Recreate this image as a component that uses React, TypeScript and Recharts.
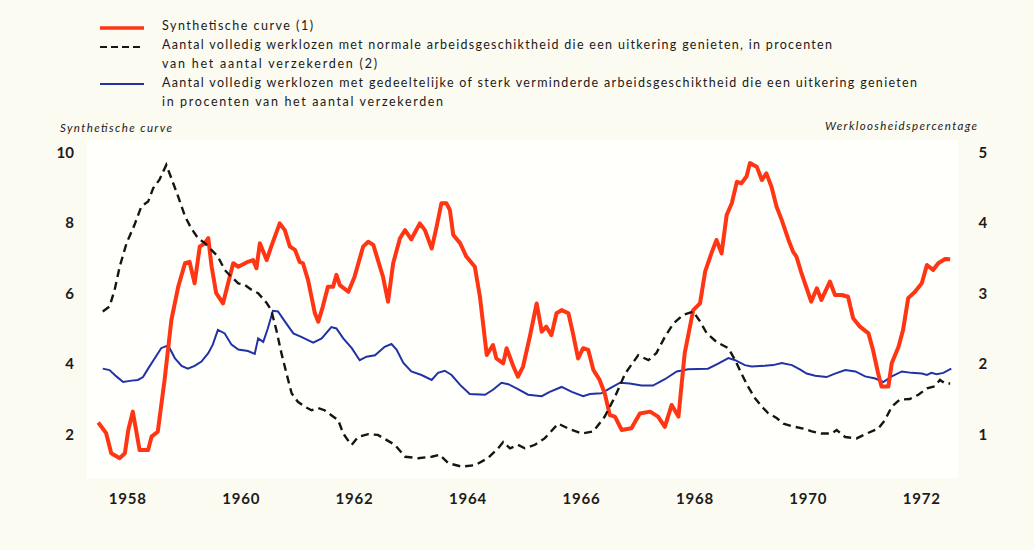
import { LineChart, Line, XAxis, YAxis } from "recharts";

// Synthetische curve (left axis), [year, value]
const synthetic = [
  [1957.48, 2.31], [1957.62, 2.01], [1957.71, 1.44], [1957.86, 1.3], [1957.95, 1.44],
  [1958.01, 2.1], [1958.09, 2.62], [1958.21, 1.53], [1958.36, 1.53], [1958.42, 1.91],
  [1958.53, 2.05], [1958.65, 3.52], [1958.77, 5.22], [1958.89, 6.16], [1959.01, 6.83],
  [1959.09, 6.87], [1959.18, 6.26], [1959.27, 7.3], [1959.36, 7.4], [1959.42, 7.54],
  [1959.48, 6.73], [1959.56, 5.98], [1959.68, 5.69], [1959.77, 6.26], [1959.86, 6.83],
  [1959.95, 6.73], [1960.12, 6.87], [1960.21, 6.92], [1960.27, 6.69], [1960.33, 7.4],
  [1960.45, 6.92], [1960.53, 7.3], [1960.68, 7.96], [1960.77, 7.77], [1960.86, 7.3],
  [1960.95, 7.21], [1961.03, 6.87], [1961.09, 6.83], [1961.18, 6.35], [1961.3, 5.41],
  [1961.36, 5.17], [1961.44, 5.6], [1961.53, 6.16], [1961.62, 6.16], [1961.68, 6.5],
  [1961.74, 6.21], [1961.89, 6.02], [1962.0, 6.45], [1962.15, 7.3], [1962.24, 7.44],
  [1962.33, 7.35], [1962.5, 6.45], [1962.59, 5.74], [1962.68, 6.83], [1962.8, 7.54],
  [1962.89, 7.77], [1963.0, 7.51], [1963.15, 7.96], [1963.24, 7.77], [1963.36, 7.25],
  [1963.44, 7.82], [1963.53, 8.53], [1963.62, 8.53], [1963.68, 8.34], [1963.74, 7.63],
  [1963.86, 7.4], [1963.97, 7.02], [1964.12, 6.73], [1964.21, 5.88], [1964.33, 4.23],
  [1964.44, 4.51], [1964.5, 4.13], [1964.62, 3.99], [1964.68, 4.42], [1964.8, 3.9],
  [1964.88, 3.61], [1964.97, 3.9], [1965.09, 4.75], [1965.21, 5.69], [1965.3, 4.89],
  [1965.38, 5.03], [1965.47, 4.79], [1965.56, 5.41], [1965.65, 5.5], [1965.77, 5.41],
  [1965.85, 4.84], [1965.94, 4.13], [1966.03, 4.42], [1966.12, 4.37], [1966.21, 3.8],
  [1966.32, 3.52], [1966.41, 3.14], [1966.5, 2.52], [1966.59, 2.48], [1966.71, 2.1],
  [1966.88, 2.15], [1967.03, 2.57], [1967.21, 2.62], [1967.35, 2.48], [1967.47, 2.19],
  [1967.59, 2.81], [1967.71, 2.48], [1967.82, 4.28], [1967.97, 5.5], [1968.09, 5.69],
  [1968.18, 6.59], [1968.29, 7.11], [1968.38, 7.49], [1968.47, 7.11], [1968.56, 8.2],
  [1968.65, 8.53], [1968.74, 9.14], [1968.82, 9.1], [1968.91, 9.29], [1968.97, 9.67],
  [1969.09, 9.57], [1969.18, 9.19], [1969.26, 9.38], [1969.35, 9.0], [1969.44, 8.43],
  [1969.53, 8.06], [1969.65, 7.49], [1969.73, 7.16], [1969.79, 7.02], [1969.88, 6.54],
  [1969.97, 6.12], [1970.05, 5.74], [1970.15, 6.12], [1970.23, 5.79], [1970.38, 6.31],
  [1970.47, 5.93], [1970.59, 5.93], [1970.7, 5.88], [1970.79, 5.27], [1970.91, 5.03],
  [1971.06, 4.84], [1971.14, 4.37], [1971.23, 3.71], [1971.29, 3.33], [1971.41, 3.33],
  [1971.47, 3.99], [1971.59, 4.46], [1971.67, 4.94], [1971.76, 5.84], [1971.88, 6.02],
  [1972.0, 6.26], [1972.09, 6.78], [1972.2, 6.64], [1972.29, 6.83], [1972.41, 6.95],
  [1972.5, 6.94],
].map(([t, v]) => ({ t, v }));

// normale arbeidsgeschiktheid, % (right axis)
const normal = [
  [1957.56, 2.73], [1957.68, 2.8], [1957.77, 3.04], [1957.86, 3.37], [1957.98, 3.7],
  [1958.12, 3.96], [1958.24, 4.22], [1958.36, 4.29], [1958.45, 4.48], [1958.56, 4.6],
  [1958.68, 4.81], [1958.77, 4.62], [1958.89, 4.36], [1959.01, 4.08], [1959.12, 3.91],
  [1959.24, 3.77], [1959.36, 3.7], [1959.48, 3.6], [1959.59, 3.51], [1959.71, 3.32],
  [1959.83, 3.22], [1959.95, 3.13], [1960.06, 3.11], [1960.18, 3.04], [1960.3, 2.99],
  [1960.45, 2.85], [1960.53, 2.75], [1960.62, 2.47], [1960.71, 2.14], [1960.8, 1.85],
  [1960.89, 1.57], [1961.0, 1.45], [1961.12, 1.38], [1961.24, 1.33], [1961.36, 1.36],
  [1961.47, 1.33], [1961.59, 1.26], [1961.71, 1.19], [1961.8, 1.0], [1961.92, 0.86],
  [1961.95, 0.84], [1962.06, 0.95], [1962.24, 0.99], [1962.41, 0.98], [1962.56, 0.91],
  [1962.71, 0.84], [1962.89, 0.67], [1963.12, 0.65], [1963.36, 0.67], [1963.5, 0.7],
  [1963.65, 0.58], [1963.89, 0.53], [1964.12, 0.55], [1964.35, 0.65], [1964.53, 0.79],
  [1964.62, 0.88], [1964.74, 0.79], [1964.88, 0.84], [1965.0, 0.79], [1965.18, 0.84],
  [1965.35, 0.93], [1965.59, 1.14], [1965.77, 1.07], [1966.01, 1.0], [1966.21, 1.03],
  [1966.41, 1.24], [1966.59, 1.52], [1966.77, 1.85], [1967.0, 2.11], [1967.18, 2.04],
  [1967.32, 2.14], [1967.47, 2.37], [1967.62, 2.56], [1967.79, 2.68], [1967.97, 2.73],
  [1968.09, 2.59], [1968.21, 2.42], [1968.38, 2.3], [1968.59, 2.21], [1968.71, 2.04],
  [1968.82, 1.85], [1968.94, 1.66], [1969.06, 1.5], [1969.18, 1.38], [1969.29, 1.29],
  [1969.44, 1.22], [1969.56, 1.14], [1969.73, 1.1], [1969.91, 1.07], [1970.06, 1.03],
  [1970.23, 1.0], [1970.41, 1.0], [1970.5, 1.05], [1970.65, 0.95], [1970.85, 0.93],
  [1971.03, 1.0], [1971.23, 1.07], [1971.35, 1.19], [1971.47, 1.38], [1971.61, 1.48],
  [1971.79, 1.49], [1971.94, 1.55], [1972.09, 1.64], [1972.23, 1.67], [1972.32, 1.76],
  [1972.41, 1.71], [1972.5, 1.71],
].map(([t, v]) => ({ t, v }));

// gedeeltelijke of sterk verminderde arbeidsgeschiktheid, % (right axis)
const reduced = [
  [1957.56, 1.92], [1957.68, 1.9], [1957.8, 1.81], [1957.92, 1.73], [1958.07, 1.75],
  [1958.18, 1.76], [1958.27, 1.8], [1958.36, 1.92], [1958.48, 2.07], [1958.59, 2.21],
  [1958.68, 2.24], [1958.74, 2.21], [1958.83, 2.07], [1958.95, 1.96], [1959.06, 1.92],
  [1959.18, 1.96], [1959.3, 2.02], [1959.42, 2.14], [1959.5, 2.26], [1959.59, 2.47],
  [1959.71, 2.42], [1959.83, 2.26], [1959.95, 2.19], [1960.12, 2.17], [1960.24, 2.13],
  [1960.3, 2.35], [1960.39, 2.3], [1960.47, 2.49], [1960.56, 2.74], [1960.65, 2.73],
  [1960.77, 2.59], [1960.92, 2.42], [1961.06, 2.37], [1961.27, 2.29], [1961.42, 2.35],
  [1961.59, 2.51], [1961.68, 2.49], [1961.8, 2.35], [1961.95, 2.21], [1962.09, 2.04],
  [1962.21, 2.09], [1962.36, 2.11], [1962.53, 2.23], [1962.65, 2.27], [1962.74, 2.19],
  [1962.86, 2.0], [1963.0, 1.88], [1963.18, 1.83], [1963.36, 1.76], [1963.47, 1.86],
  [1963.59, 1.89], [1963.71, 1.83], [1963.86, 1.69], [1964.03, 1.56], [1964.3, 1.55],
  [1964.44, 1.62], [1964.59, 1.72], [1964.71, 1.7], [1964.88, 1.63], [1965.06, 1.55],
  [1965.3, 1.53], [1965.44, 1.59], [1965.65, 1.66], [1965.83, 1.59], [1966.03, 1.53],
  [1966.15, 1.56], [1966.35, 1.57], [1966.5, 1.64], [1966.68, 1.72], [1966.85, 1.71],
  [1967.06, 1.68], [1967.26, 1.68], [1967.47, 1.77], [1967.68, 1.88], [1967.88, 1.91],
  [1968.23, 1.92], [1968.41, 1.99], [1968.59, 2.07], [1968.71, 2.04], [1968.88, 1.97],
  [1969.0, 1.95], [1969.23, 1.96], [1969.38, 1.97], [1969.53, 2.0], [1969.71, 1.97],
  [1969.85, 1.91], [1969.97, 1.85], [1970.12, 1.82], [1970.32, 1.8], [1970.47, 1.85],
  [1970.65, 1.9], [1970.83, 1.88], [1971.0, 1.81], [1971.18, 1.78], [1971.32, 1.73],
  [1971.47, 1.81], [1971.65, 1.88], [1971.82, 1.86], [1972.0, 1.85], [1972.09, 1.83],
  [1972.17, 1.86], [1972.26, 1.84], [1972.38, 1.86], [1972.52, 1.92],
].map(([t, v]) => ({ t, v }));

const yearTicks = [1958, 1960, 1962, 1964, 1966, 1968, 1970, 1972];
const leftTicks = [2, 4, 6, 8, 10];
const rightTicks = [1, 2, 3, 4, 5];

const legendRows = [
  { text: "Synthetische curve (1)", width: 151, mark: "red" },
  { text: "Aantal volledig werklozen met normale arbeidsgeschiktheid die een uitkering genieten, in procenten", width: 670, mark: "dash" },
  { text: "van het aantal verzekerden (2)", width: 215, mark: "" },
  { text: "Aantal volledig werklozen met gedeeltelijke of sterk verminderde arbeidsgeschiktheid die een uitkering genieten", width: 755, mark: "blue" },
  { text: "in procenten van het aantal verzekerden", width: 281, mark: "" },
];

const RED = "#ff3514";
const BLUE = "#2132a6";
const BLACK = "#151515";
const FONT = "Lato, 'Open Sans', sans-serif";

function LegendBlock() {
  return (
    <svg width={1034} height={140} style={{ position: "absolute", left: 0, top: 0 }}>
      {legendRows.map((r, i) => {
        const y = 25 + i * 19;
        return (
          <g key={i}>
            {r.mark === "red" && <line x1={100} x2={144} y1={y + 3} y2={y + 3} stroke={RED} strokeWidth={3.5} />}
            {r.mark === "dash" && <line x1={100} x2={144} y1={y + 3} y2={y + 3} stroke={BLACK} strokeWidth={2.2} strokeDasharray="7 4" />}
            {r.mark === "blue" && <line x1={100} x2={144} y1={y + 2} y2={y + 2} stroke={BLUE} strokeWidth={2} />}
            <text x={162} y={y} dominantBaseline="central" fontSize={12.5} fontFamily={FONT} fill="#1a1a1a"
              textLength={r.width} lengthAdjust="spacing">{r.text}</text>
          </g>
        );
      })}
      <text x={60} y={127} dominantBaseline="central" fontSize={11.5} fontStyle="italic" fontFamily={FONT}
        fill="#1a1a1a" textLength={112} lengthAdjust="spacing">Synthetische curve</text>
      <text x={825} y={125} dominantBaseline="central" fontSize={11.5} fontStyle="italic" fontFamily={FONT}
        fill="#1a1a1a" textLength={152} lengthAdjust="spacing">Werkloosheidspercentage</text>
    </svg>
  );
}

const tickStyle = { fontSize: 15, fontWeight: 700, fontFamily: FONT, fill: "#1c1c1c" };

export default function App() {
  return (
    <div style={{ position: "absolute", left: 0, top: 0, width: 1034, height: 550, background: "#fcfbf1" }}>
      <div style={{ position: "absolute", left: 87, top: 140, width: 871, height: 338, background: "#fffffb" }} />
      <LegendBlock />
      <div style={{ position: "absolute", left: 0, top: 0 }}>
        <LineChart width={1034} height={550} margin={{ top: 151.5, right: 0, bottom: 51.25, left: 0 }}>
          <XAxis dataKey="t" type="number" domain={[1957.3, 1972.7]} ticks={yearTicks} height={30}
            axisLine={false} tickLine={false} tickSize={0} tickMargin={0} allowDataOverflow
            tick={(p: any) => (
              <text x={p.x} y={p.y + 29} textAnchor="middle" dominantBaseline="central" {...tickStyle} letterSpacing={0.8}>
                {p.payload.value}
              </text>
            )} />
          <YAxis yAxisId="left" orientation="left" width={88} domain={[1, 10]} ticks={leftTicks}
            axisLine={false} tickLine={false} tickSize={0} tickMargin={0} allowDataOverflow
            tick={(p: any) => (
              <text x={p.x - 14} y={p.y} textAnchor="end" dominantBaseline="central" {...tickStyle}>
                {p.payload.value}
              </text>
            )} />
          <YAxis yAxisId="right" orientation="right" width={72.5} domain={[0.5, 5]} ticks={rightTicks}
            axisLine={false} tickLine={false} tickSize={0} tickMargin={0} allowDataOverflow
            tick={(p: any) => (
              <text x={p.x + 17} y={p.y} textAnchor="start" dominantBaseline="central" {...tickStyle}>
                {p.payload.value}
              </text>
            )} />
          <Line yAxisId="right" data={reduced} dataKey="v" type="linear" stroke={BLUE} strokeWidth={2}
            dot={false} isAnimationActive={false} />
          <Line yAxisId="left" data={synthetic} dataKey="v" type="linear" stroke={RED} strokeWidth={4}
            strokeLinejoin="round" dot={false} isAnimationActive={false} />
          <Line yAxisId="right" data={normal} dataKey="v" type="linear" stroke={BLACK} strokeWidth={2.4}
            strokeDasharray="8 5" dot={false} isAnimationActive={false} />
        </LineChart>
      </div>
    </div>
  );
}
